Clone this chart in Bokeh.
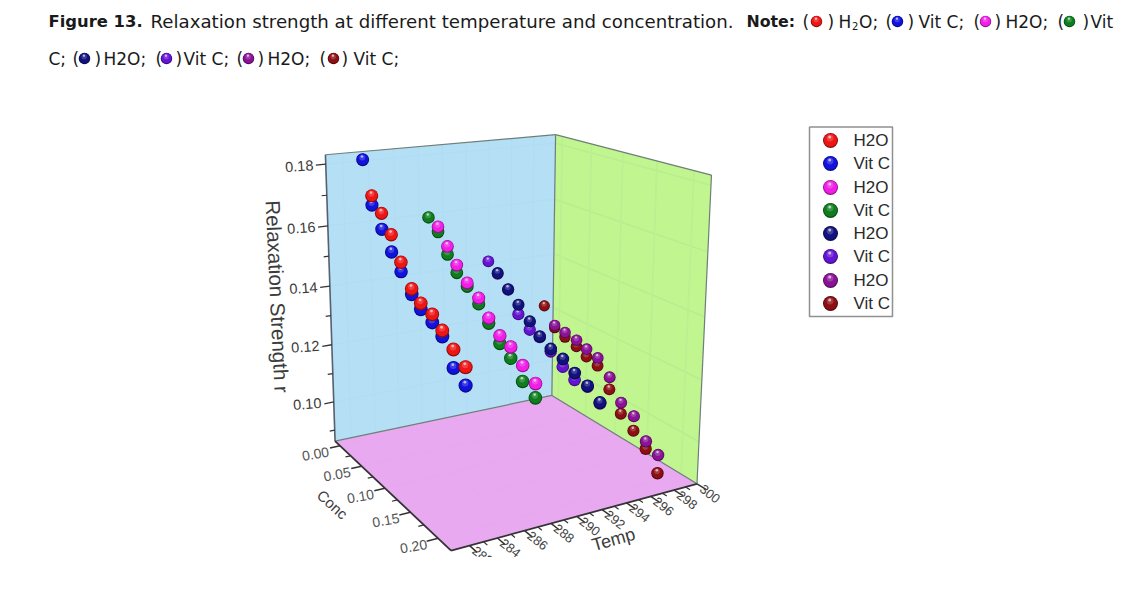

import numpy as np
from bokeh.plotting import figure
from bokeh.embed import file_html
from bokeh.resources import INLINE
from bokeh.core.properties import value

# ---- data ----
temp_a = [281.4,282.0,282.7,283.4,284.1,284.9,285.6,286.5,287.3,288.2,289.2]
vitc_a = [0.1847,0.1705,0.1626,0.1550,0.1483,0.1404,0.1350,0.1300,0.1247,0.1132,0.1063]
h2o_a  = [0.1734,0.1676,0.1605,0.1513,0.1422,0.1370,0.1327,0.1267,0.1196,0.1127]
temp_b = [284.3,285.0,285.7,286.4,287.2,288.1,288.9,289.8,290.7,291.7,292.8]
vitc_b = [0.1692,0.1644,0.1571,0.1510,0.1462,0.1400,0.1332,0.1259,0.1203,0.1117,0.1052]
h2o_b  = [0.1660,0.1596,0.1534,0.1473,0.1419,0.1349,0.1285,0.1241,0.1171,0.1101]
temp_c = [286.6,287.3,288.1,288.9,289.8,290.6,291.5,292.5,293.5,294.6,295.7]
vitc_c = [0.1587,0.1546,0.1492,0.1412,0.1357,0.1328,0.1276,0.1219,0.1168,0.1137,0.1072]
h2o_c  = [0.1548,0.1494,0.1441,0.1383,0.1330,0.1284,0.1244,0.1190,0.1139,0.1074]
temp_d = [288.4,289.2,290.0,290.9,291.7,292.6,293.6,294.6,295.7,296.8,297.9]
vitc_d = [0.1490,0.1420,0.1386,0.1351,0.1314,0.1279,0.1197,0.1111,0.1046,0.0976,0.0884]
h2o_d  = [0.1427,0.1400,0.1370,0.1337,0.1303,0.1235,0.1146,0.1093,0.1001,0.0945]
conc_levels = [0.05,0.10,0.15,0.20]
series_names = ["H2O","Vit C","H2O","Vit C","H2O","Vit C","H2O","Vit C"]
series_colors = ["#ee1515","#1212dd","#f01ee6","#0e7d1e","#12127f","#6414d2","#8a1296","#8c0f14"]
r_major = [0.10,0.12,0.14,0.16,0.18]
r_minor = [0.09,0.11,0.13,0.15,0.17]
conc_major = [0.00,0.05,0.10,0.15,0.20]
conc_minor = [0.025,0.075,0.125,0.175]
temp_major = [282,284,286,288,290,292,294,296,298,300]
temp_minor = [283,285,287,289,291,293,295,297,299]

# ---- fitted perspective of the 3D box ----
T0,T1=280.7,300.0; C0,C1=-0.012,0.222; R0,R1=0.086,0.183
corners=[((0,0,0),(335,441)),((1,0,0),(551,395)),((1,1,0),(697,483)),((0,1,0),(450,550)),
         ((0,0,1),(325,154)),((1,0,1),(555,134)),((1,1,1),(711,175))]
A=[];B=[]
for (u,v,w),(x,y) in corners:
    A.append([u,v,w,1,0,0,0,0,-x*u,-x*v,-x*w]);B.append(x)
    A.append([0,0,0,0,u,v,w,1,-y*u,-y*v,-y*w]);B.append(y)
P=np.append(np.linalg.lstsq(np.array(A,float),np.array(B,float),rcond=None)[0],1).reshape(3,4)
def proj(T,c,r):
    T,c,r=np.broadcast_arrays(np.asarray(T,float),np.asarray(c,float),np.asarray(r,float))
    X=np.stack([(T-T0)/(T1-T0),(c-C0)/(C1-C0),(r-R0)/(R1-R0),np.ones_like(T,dtype=float)])
    h=P@X
    return h[0]/h[2],h[1]/h[2]

p=figure(width=1129,height=584,x_range=(0,1129),y_range=(584,0),output_backend="svg",
         toolbar_location=None,min_border=0,outline_line_color=None,background_fill_color="white",border_fill_color="white")
p.axis.visible=False;p.grid.visible=False

def face(a,b,c,d,col):
    xs,ys=proj(*zip(a,b,c,d))
    p.patch(list(xs),list(ys),fill_color=col,line_color=None)
face((T0,C0,R0),(T1,C0,R0),(T1,C1,R0),(T0,C1,R0),"#e8a9f0")
face((T0,C0,R0),(T1,C0,R0),(T1,C0,R1),(T0,C0,R1),"#b4dff5")
face((T1,C0,R0),(T1,C1,R0),(T1,C1,R1),(T1,C0,R1),"#c1f590")

def seg(a,b,color,w,alpha=1.0):
    xa,ya=proj(*a);xb,yb=proj(*b)
    p.line([float(xa),float(xb)],[float(ya),float(yb)],line_color=color,line_width=w,line_alpha=alpha)
# faint wall grids
for r in r_major:
    seg((T1,C0,r),(T1,C1,r),"#baec90",1.6)
    seg((T0,C0,r),(T1,C0,r),"#b1ddf4",1.2)
for c in conc_major:
    seg((T1,c,R0),(T1,c,R1),"#bcee92",1.6)
    seg((T0,c,R0),(T1,c,R0),"#e7a8ef",1.0)
for t in temp_major:
    seg((t,C0,R0),(t,C0,R1),"#b1ddf4",1.2)
    seg((t,C0,R0),(t,C1,R0),"#e7a8ef",1.0)
# box edges
for a,b in [((T0,C0,R1),(T1,C0,R1)),((T1,C0,R1),(T1,C1,R1)),((T1,C1,R1),(T1,C1,R0)),((T1,C0,R1),(T1,C0,R0)),((T1,C0,R0),(T1,C1,R0)),((T0,C0,R0),(T1,C0,R0))]:
    seg(a,b,"#6e7f78",1.2)
# axes
axc="#333333"
seg((T0,C0,R0),(T0,C0,R1),"#556070",1.6)
seg((T0,C0,R0),(T0,C1,R0),axc,1.8)
seg((T0,C1,R0),(T1,C1,R0),axc,1.8)
for r in r_major: seg((T0,C0,r),(T0-0.75,C0,r),axc,1.3)
for r in r_minor: seg((T0,C0,r),(T0-0.4,C0,r),axc,1.2)
for c in conc_major: seg((T0,c,R0),(T0-0.8,c,R0),axc,1.5)
for c in conc_minor: seg((T0,c,R0),(T0-0.4,c,R0),axc,1.2)
for t in temp_major: seg((t,C1,R0),(t,C1+0.012,R0),axc,1.5)
for t in temp_minor: seg((t,C1,R0),(t,C1+0.006,R0),axc,1.2)

def shade(col,f):
    c=np.array([int(col[i:i+2],16) for i in (1,3,5)],float)
    c=c*f if f<1 else c+(255-c)*(f-1)
    return "#%02x%02x%02x"%tuple(int(v) for v in c)
def balls(xs,ys,sizes,col):
    xs=np.asarray(xs,float);ys=np.asarray(ys,float);sizes=np.asarray(sizes,float)
    p.scatter(xs,ys,size=sizes,fill_color=shade(col,0.6),line_color=None)
    p.scatter(xs,ys-0.03*sizes,size=sizes*0.88,fill_color=col,line_color=None)
    p.scatter(xs-0.03*sizes,ys-0.16*sizes,size=sizes*0.46,fill_color=shade(col,1.25),line_color=None,fill_alpha=0.75)
    p.scatter(xs-0.05*sizes,ys-0.24*sizes,size=sizes*0.2,fill_color=shade(col,1.7),line_color=None)

sets=[(temp_a,vitc_a,h2o_a,0,1,13.0),(temp_b,vitc_b,h2o_b,2,3,12.5),(temp_c,vitc_c,h2o_c,4,5,11.8),(temp_d,vitc_d,h2o_d,6,7,11.2)]
for (tt,vc,hh,ih,iv,sz),c in zip(sets,conc_levels):
    tt=np.array(tt)
    x,y=proj(tt,c,np.array(vc)); balls(x,y,sz+np.arange(11)*0.12,series_colors[iv])
    x,y=proj(tt[1:],c,np.array(hh)); balls(x,y,sz+np.arange(1,11)*0.12,series_colors[ih])

# axis texts
lab="#3c3c3c"
def txt(x,y,s,size,angle=0,font="Liberation Sans",color=lab,align="center",style="normal"):
    p.text([x],[y],text=[s],text_font=value(font),text_font_size=f"{size}px",angle=np.radians(angle),
           text_align=align,text_baseline="middle",text_color=color,text_font_style=style)
for r in r_major:
    x,y=proj(T0,C0,r); txt(float(x)-26.5,float(y)+2,f"{r:.2f}",14.5,4)
for c in conc_major:
    x,y=proj(T0,c,R0); txt(float(x)-24.5,float(y)+8,f"{c:.2f}",14,10,color="#555555")
for t in temp_major:
    x,y=proj(t,C1,R0); txt(float(x)+13,float(y)+10,str(t),13,-38,color="#444444")
txt(277,296,"Relaxation Strength r",20.5,-87.3)
txt(332,504,"Conc",15,-42)
txt(613,539,"Temp",18,16)

# crop of the source image at the bottom
p.quad(left=[300],right=[760],top=[556.5],bottom=[584],fill_color="white",line_color=None)

# legend
p.quad(left=[809],right=[892],top=[126.5],bottom=[316],fill_color="white",line_color="#909090",line_width=1.5)
leg_y=[140,163,187,210,233,256,280,303]
for yy,n,c in zip(leg_y,series_names,series_colors):
    balls([830],[yy],[15],c)
    txt(853,yy,n,17,0,align="left",color="#2a2a2a")

# caption
CF="DejaVu Sans"; CS=17.0; CC="#1a1a1a"
y1,y2=21,58
txt(48,y1,"Figure 13.",16.4,0,font=CF,color=CC,align="left",style="bold")
txt(150,y1,"Relaxation strength at different temperature and concentration.",18.2,0,font=CF,color=CC,align="left")
txt(746,y1,"Note:",15.8,0,font=CF,color=CC,align="left",style="bold")
cap=[(802,y1,"("),(827,y1,")"),(838,y1,"H"),(858.5,y1,"O;"),
     (885,y1,"("),(907,y1,")"),(918,y1,"Vit C;"),(973,y1,"("),(994,y1,")"),
     (1005,y1,"H2O;"),(1057,y1,"("),(1082,y1,")"),(1090,y1,"Vit"),
     (48,y2,"C;"),(72,y2,"("),(94,y2,")"),(103,y2,"H2O;"),(155,y2,"("),(175,y2,")"),
     (183,y2,"Vit C;"),(236,y2,"("),(257,y2,")"),(267,y2,"H2O;"),(319,y2,"("),(341,y2,")"),(353,y2,"Vit C;")]
for x,y,s in cap:
    txt(x,y,s,CS,0,font=CF,color=CC,align="left")
txt(851.5,y1+4,"2",10,0,font=CF,color=CC,align="left")
icons=[(816,y1),(897,y1),(985,y1),(1069,y1),(84,y2),(166,y2),(248,y2),(333,y2)]
for (x,y),c in zip(icons,series_colors):
    balls([x],[y],[11.5],c)

open("out.html","w").write(file_html(p,INLINE))
